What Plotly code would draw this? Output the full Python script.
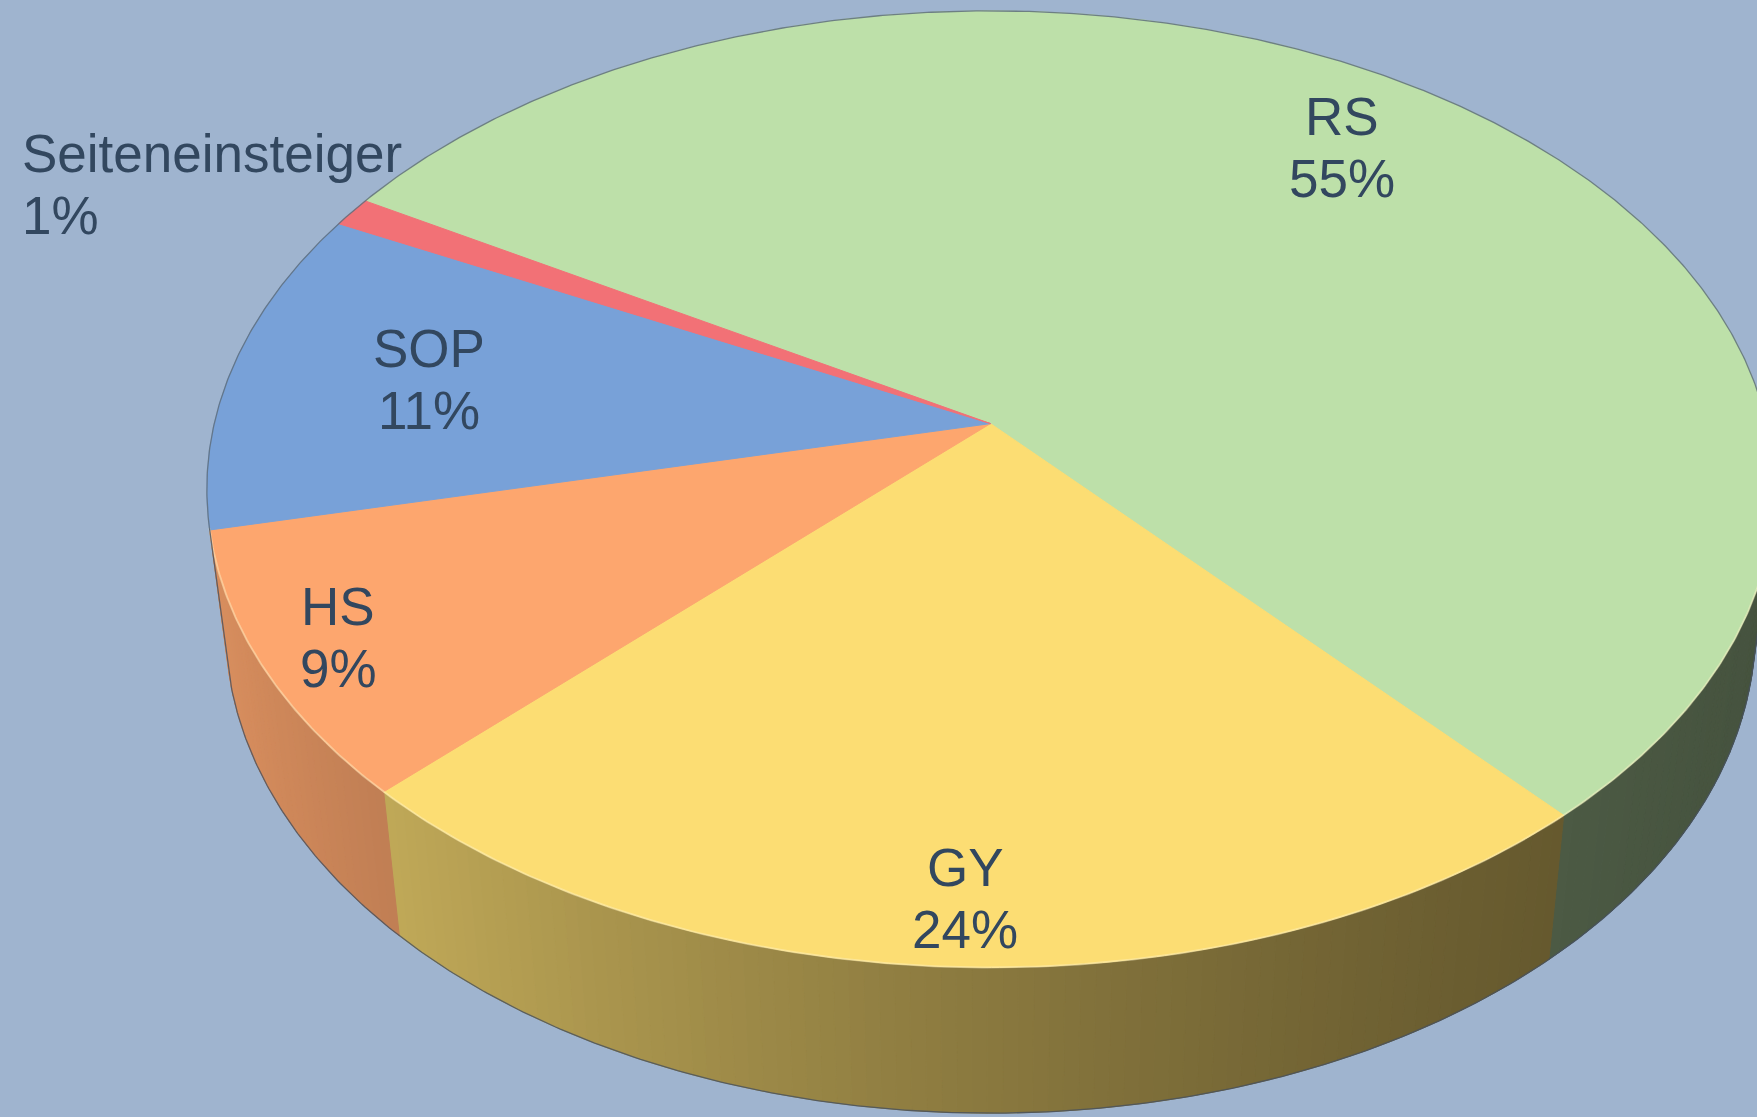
import numpy as np
import plotly.graph_objects as go

# ---------------- data ----------------
categories = ["RS", "GY", "HS", "SOP", "Seiteneinsteiger"]
values = [55, 24, 9, 11, 1]
top_colors = ["#BDE0A9", "#FCDD73", "#FDA66E", "#78A1D8", "#F27176"]

# ---------------- layout / style parameters ----------------
W, H = 1757, 1117
BG = "#9FB4CF"
TEXT_COLOR = "#32475F"
FONT = "Liberation Sans, Arial, sans-serif"
FONT_SIZE = 53
LINE_GAP = 62

# perspective "3-D pie" projection parameters (pixel space)
CX, CY = 990.5, 423.6      # projected pie centre
FOC = 4510.0               # focal length (px)
DIST = 5.81                # camera distance (in pie radii)
ELEV = np.radians(37.2)    # camera elevation
THICK = 0.23               # pie thickness (in pie radii)
START = 149.5              # angle where first slice starts (deg, math convention), clockwise

# label anchors (pixel centre of the two-line label), per category
label_centres = {
    "RS": (1341.5, 147, "center"),
    "GY": (965, 898.5, "center"),
    "HS": (338, 637, "center"),
    "SOP": (429, 379.5, "center"),
    "Seiteneinsteiger": (20, 184.5, "left"),
}


def project(phi_deg, r=1.0, z=0.0):
    p = np.radians(phi_deg)
    x = r * np.cos(p)
    y = r * np.sin(p)
    d = DIST + y * np.cos(ELEV) - z * np.sin(ELEV)
    u = FOC * x / d
    v = FOC * (y * np.sin(ELEV) + z * np.cos(ELEV)) / d
    return CX + u, CY - v


def hex_to_rgb(h):
    h = h.lstrip("#")
    return tuple(int(h[i:i + 2], 16) for i in (0, 2, 4))


def shade(hexcol, f):
    r, g, b = hex_to_rgb(hexcol)
    return "rgb(%d,%d,%d)" % (min(255, r * f), min(255, g * f), min(255, b * f))


def wall_factor(phi_deg):
    t = (1 - np.cos(np.radians(phi_deg))) / 2.0
    return 0.37 + 0.50 * t ** 1.5


# slice angle ranges (clockwise, decreasing angle)
total = float(sum(values))
bounds = [START]
for v in values:
    bounds.append(bounds[-1] - 360.0 * v / total)

# visible range of the outer wall (silhouette under perspective)
s0 = 1.0 / (DIST * np.cos(ELEV))
vis_lo = -180 + np.degrees(np.arcsin(s0))
vis_hi = -np.degrees(np.arcsin(s0))

fig = go.Figure()

# ---- outer walls (drawn as thin shaded strips) ----
for i, cat in enumerate(categories):
    a0, a1 = bounds[i], bounds[i + 1]  # a0 > a1
    hi = min(a0, vis_hi)
    lo = max(a1, vis_lo)
    if hi - lo < 0.5:
        continue
    n = max(2, int(np.ceil((hi - lo) / 1.0)))
    edges = np.linspace(hi, lo, n + 1)
    for k in range(n):
        ph = np.linspace(edges[k], edges[k + 1], 4)
        xt, yt = project(ph, 1.0, 0.0)
        xb, yb = project(ph[::-1], 1.0, -THICK)
        xs = np.concatenate([xt, xb, xt[:1]])
        ys = np.concatenate([yt, yb, yt[:1]])
        col = shade(top_colors[i], wall_factor((edges[k] + edges[k + 1]) / 2))
        fig.add_trace(go.Scatter(
            x=xs, y=ys, mode="lines", fill="toself", fillcolor=col,
            line=dict(color=col, width=1), hoverinfo="skip", showlegend=False))

# ---- top faces ----
for i, cat in enumerate(categories):
    a0, a1 = bounds[i], bounds[i + 1]
    n = max(4, int(abs(a0 - a1) * 2))
    ph = np.linspace(a0, a1, n)
    xa, ya = project(ph)
    xs = np.concatenate([[CX], xa, [CX]])
    ys = np.concatenate([[CY], ya, [CY]])
    fig.add_trace(go.Scatter(
        x=xs, y=ys, mode="lines", fill="toself", fillcolor=top_colors[i],
        line=dict(color=top_colors[i], width=1), hoverinfo="skip",
        showlegend=False, name=cat))

# ---- outlines ----
ph = np.linspace(vis_hi, vis_lo + 360, 600)
xo, yo = project(ph)
fig.add_trace(go.Scatter(x=xo, y=yo, mode="lines",
                         line=dict(color="rgba(95,110,125,0.85)", width=1.3),
                         hoverinfo="skip", showlegend=False))
# light bevel highlight along the front rim
ph = np.linspace(vis_lo, vis_hi, 400)
xf, yf = project(ph)
fig.add_trace(go.Scatter(x=xf, y=yf, mode="lines",
                         line=dict(color="rgba(255,245,200,0.45)", width=2),
                         hoverinfo="skip", showlegend=False))
xb, yb = project(ph, 1.0, -THICK)
xl_t, yl_t = project(vis_lo)
xr_t, yr_t = project(vis_hi)
xs = np.concatenate([[xl_t], xb, [xr_t]])
ys = np.concatenate([[yl_t], yb, [yr_t]])
fig.add_trace(go.Scatter(x=xs, y=ys, mode="lines",
                         line=dict(color="rgba(70,80,95,0.8)", width=1.3),
                         hoverinfo="skip", showlegend=False))

# ---- labels ----
for i, cat in enumerate(categories):
    lx, ly, anchor = label_centres[cat]
    for j, txt in enumerate([cat, f"{values[i]}%"]):
        fig.add_annotation(
            x=lx, y=ly - LINE_GAP / 2 + j * LINE_GAP, xref="x", yref="y",
            text=txt, showarrow=False, xanchor=anchor, yanchor="middle",
            font=dict(family=FONT, size=FONT_SIZE, color=TEXT_COLOR))

fig.update_layout(
    width=W, height=H,
    margin=dict(l=0, r=0, t=0, b=0),
    paper_bgcolor=BG, plot_bgcolor=BG,
    xaxis=dict(range=[0, W], visible=False, fixedrange=True),
    yaxis=dict(range=[H, 0], visible=False, fixedrange=True),
    showlegend=False,
)

fig.write_html(
    "out.html",
    config={"displayModeBar": False},
    post_script="document.body.style.margin='0';document.body.style.overflow='hidden';",
)
